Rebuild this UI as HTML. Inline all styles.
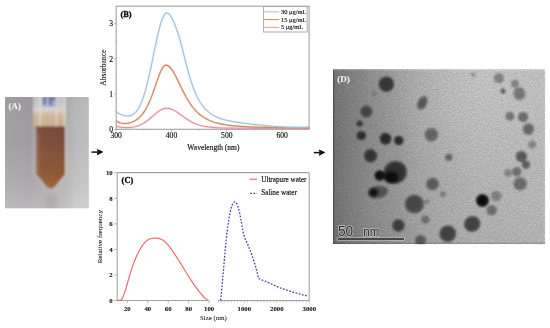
<!DOCTYPE html>
<html><head><meta charset="utf-8"><style>
html,body{margin:0;padding:0;background:#fff;}
svg{display:block;}
#w{will-change:transform;width:550px;height:328px;}
.t{font-family:"Liberation Serif",serif;font-size:7px;fill:#111;stroke:#111;stroke-width:0.15px;}
.tb{font-family:"Liberation Serif",serif;font-size:7px;font-weight:bold;fill:#111;stroke:#111;stroke-width:0.1px;}
</style></head><body>
<div id="w"><svg width="550" height="328" viewBox="0 0 550 328">
<rect width="550" height="328" fill="#fff"/>
<defs>
<linearGradient id="pbg" x1="5" y1="0" x2="89" y2="0" gradientUnits="userSpaceOnUse">
<stop offset="0" stop-color="#a4a1a4"/><stop offset="0.3" stop-color="#9f9ca0"/><stop offset="0.7" stop-color="#adaaab"/><stop offset="0.85" stop-color="#b9bbbb"/><stop offset="1" stop-color="#bdbfbf"/></linearGradient>
<linearGradient id="pbgv" x1="0" y1="97" x2="0" y2="208" gradientUnits="userSpaceOnUse">
<stop offset="0" stop-color="#000" stop-opacity="0.03"/><stop offset="0.4" stop-color="#fff" stop-opacity="0"/><stop offset="0.75" stop-color="#fff" stop-opacity="0.13"/><stop offset="1" stop-color="#fff" stop-opacity="0.26"/></linearGradient>
<linearGradient id="liq" x1="0" y1="126" x2="0" y2="189" gradientUnits="userSpaceOnUse">
<stop offset="0" stop-color="#784b3c"/><stop offset="0.25" stop-color="#804f3d"/><stop offset="0.55" stop-color="#8a553a"/><stop offset="0.75" stop-color="#8f5837"/><stop offset="0.9" stop-color="#976238"/><stop offset="1" stop-color="#9d6a3a"/></linearGradient>
<linearGradient id="liqh" x1="36" y1="0" x2="65.2" y2="0" gradientUnits="userSpaceOnUse">
<stop offset="0" stop-color="#fff" stop-opacity="0.12"/><stop offset="0.12" stop-color="#fff" stop-opacity="0.03"/><stop offset="0.5" stop-color="#000" stop-opacity="0"/><stop offset="0.92" stop-color="#000" stop-opacity="0.03"/><stop offset="1" stop-color="#fff" stop-opacity="0.1"/></linearGradient>
<linearGradient id="foam" x1="0" y1="97" x2="0" y2="127" gradientUnits="userSpaceOnUse">
<stop offset="0" stop-color="#c2c2c6"/><stop offset="0.3" stop-color="#c8c7c8"/><stop offset="0.4" stop-color="#d6d1cb"/><stop offset="0.5" stop-color="#d6cbbd"/><stop offset="0.58" stop-color="#d0b99d"/><stop offset="0.9" stop-color="#ccb092"/><stop offset="1" stop-color="#c2a282"/></linearGradient>
<filter id="pblur" x="-10%" y="-10%" width="120%" height="120%"><feGaussianBlur stdDeviation="0.8"/></filter>
<filter id="pblur2" x="-30%" y="-30%" width="160%" height="160%"><feGaussianBlur stdDeviation="2.5"/></filter>
<clipPath id="pclip"><rect x="5" y="97" width="83.8" height="111.3"/></clipPath>
</defs><g clip-path="url(#pclip)"><rect x="5" y="97" width="84" height="112" fill="url(#pbg)"/><rect x="5" y="97" width="84" height="112" fill="url(#pbgv)"/><g filter="url(#pblur2)"><ellipse cx="51" cy="202" rx="7" ry="9" fill="#8a7070" opacity="0.18"/><path d="M34,128 L67,128 L67,174 L51,191 L34,174 Z" fill="#d8d8d8" opacity="0.3"/></g><g filter="url(#pblur)"><rect x="33.2" y="95" width="32.6" height="33" fill="url(#foam)"/><rect x="39.4" y="95" width="1.3" height="31" fill="#e6e6e6" opacity="0.85"/><rect x="55.6" y="95" width="1.3" height="31" fill="#e6e6e6" opacity="0.7"/><rect x="64.2" y="95" width="1.3" height="33" fill="#e6e6e6" opacity="0.8"/><rect x="42" y="96" width="14.3" height="10.5" fill="#aeb1cc"/><path d="M43.2,97 L46.2,97 L46,104.5 L44.5,105.5 L43.2,103 Z" fill="#6d74ab"/><path d="M48.5,97 L55.3,97 L54.8,100 L51.5,102 L52.8,105.5 L49.5,105.8 L49,102 Z" fill="#6d74ab"/><path d="M36,126.4 L65.2,126.4 L65.2,173.5 L54.5,186.8 Q50.8,190 47.1,186.8 L36,173.5 Z" fill="url(#liq)"/><path d="M36,126.4 L65.2,126.4 L65.2,173.5 L54.5,186.8 Q50.8,190 47.1,186.8 L36,173.5 Z" fill="url(#liqh)"/><rect x="37.4" y="132" width="0.8" height="40" fill="#d8c0a8" opacity="0.3"/><rect x="65" y="126" width="1.2" height="48" fill="#d8d8d8" opacity="0.6"/></g><text x="8.6" y="108.6" class="tb" style="font-size:8.8px;fill:#f6f6f6;stroke:#f6f6f6">(A)</text></g>
<line x1="91.5" y1="152.1" x2="100.4" y2="152.1" stroke="#111" stroke-width="1.5"/><path d="M97.4,149.7 L102.4,152.1 L97.4,154.5 L98.60000000000001,152.1 Z" fill="#111" stroke="#111" stroke-width="1.1" stroke-linejoin="round"/><line x1="313.8" y1="152.6" x2="322.3" y2="152.6" stroke="#111" stroke-width="1.5"/><path d="M319.3,150.2 L324.3,152.6 L319.3,155.0 L320.5,152.6 Z" fill="#111" stroke="#111" stroke-width="1.1" stroke-linejoin="round"/>
<rect x="116.2" y="6.2" width="192.9" height="123.1" fill="none" stroke="#a3a3a3" stroke-width="1.1"/><line x1="116.2" y1="129.3" x2="116.2" y2="131.3" stroke="#a3a3a3" stroke-width="0.8"/><text x="116.2" y="137.9" class="t" text-anchor="middle" style="font-size:7.6px">300</text><line x1="171.5" y1="129.3" x2="171.5" y2="131.3" stroke="#a3a3a3" stroke-width="0.8"/><text x="171.5" y="137.9" class="t" text-anchor="middle" style="font-size:7.6px">400</text><line x1="226.8" y1="129.3" x2="226.8" y2="131.3" stroke="#a3a3a3" stroke-width="0.8"/><text x="226.8" y="137.9" class="t" text-anchor="middle" style="font-size:7.6px">500</text><line x1="282.1" y1="129.3" x2="282.1" y2="131.3" stroke="#a3a3a3" stroke-width="0.8"/><text x="282.1" y="137.9" class="t" text-anchor="middle" style="font-size:7.6px">600</text><line x1="114.9" y1="111.7" x2="116.2" y2="111.7" stroke="#a3a3a3" stroke-width="0.6"/><line x1="114.9" y1="76.5" x2="116.2" y2="76.5" stroke="#a3a3a3" stroke-width="0.6"/><line x1="114.9" y1="41.3" x2="116.2" y2="41.3" stroke="#a3a3a3" stroke-width="0.6"/><line x1="143.8" y1="129.3" x2="143.8" y2="130.60000000000002" stroke="#a3a3a3" stroke-width="0.6"/><line x1="199.2" y1="129.3" x2="199.2" y2="130.60000000000002" stroke="#a3a3a3" stroke-width="0.6"/><line x1="254.4" y1="129.3" x2="254.4" y2="130.60000000000002" stroke="#a3a3a3" stroke-width="0.6"/><line x1="114.2" y1="129.3" x2="116.2" y2="129.3" stroke="#a3a3a3" stroke-width="0.8"/><text x="113" y="131.9" class="t" text-anchor="end" style="font-size:7.6px">0</text><line x1="114.2" y1="94.1" x2="116.2" y2="94.1" stroke="#a3a3a3" stroke-width="0.8"/><text x="113" y="96.7" class="t" text-anchor="end" style="font-size:7.6px">1</text><line x1="114.2" y1="58.9" x2="116.2" y2="58.9" stroke="#a3a3a3" stroke-width="0.8"/><text x="113" y="61.5" class="t" text-anchor="end" style="font-size:7.6px">2</text><line x1="114.2" y1="23.7" x2="116.2" y2="23.7" stroke="#a3a3a3" stroke-width="0.8"/><text x="113" y="26.3" class="t" text-anchor="end" style="font-size:7.6px">3</text><defs><filter id="lblur" x="-5%" y="-5%" width="110%" height="110%"><feGaussianBlur stdDeviation="0.8"/></filter></defs><g><path d="M116.20,126.22 L117.42,126.60 L118.63,126.90 L119.85,127.13 L121.06,127.31 L122.28,127.44 L123.49,127.52 L124.71,127.57 L125.93,127.59 L127.14,127.58 L128.36,127.53 L129.57,127.45 L130.79,127.33 L132.00,127.18 L133.22,126.98 L134.44,126.74 L135.65,126.46 L136.87,126.12 L138.08,125.72 L139.30,125.27 L140.51,124.75 L141.73,124.16 L142.95,123.51 L144.16,122.78 L145.38,122.00 L146.59,121.14 L147.81,120.23 L149.02,119.26 L150.24,118.26 L151.46,117.22 L152.67,116.16 L153.89,115.10 L155.10,114.06 L156.32,113.05 L157.53,112.09 L158.75,111.20 L159.97,110.40 L161.18,109.70 L162.40,109.13 L163.61,108.69 L164.83,108.39 L166.04,108.24 L167.26,108.25 L168.48,108.38 L169.69,108.62 L170.91,108.98 L172.12,109.45 L173.34,110.01 L174.55,110.65 L175.77,111.37 L176.99,112.15 L178.20,112.98 L179.42,113.83 L180.63,114.71 L181.85,115.60 L183.06,116.48 L184.28,117.35 L185.50,118.20 L186.71,119.02 L187.93,119.80 L189.14,120.55 L190.36,121.25 L191.57,121.91 L192.79,122.53 L194.01,123.10 L195.22,123.62 L196.44,124.10 L197.65,124.54 L198.87,124.94 L200.08,125.30 L201.30,125.63 L202.52,125.92 L203.73,126.19 L204.95,126.42 L206.16,126.63 L207.38,126.82 L208.59,126.99 L209.81,127.14 L211.03,127.27 L212.24,127.38 L213.46,127.49 L214.67,127.58 L215.89,127.66 L217.11,127.73 L218.32,127.79 L219.54,127.84 L220.75,127.89 L221.97,127.94 L223.18,127.97 L224.40,128.01 L225.62,128.03 L226.83,128.06 L228.05,128.08 L229.26,128.10 L230.48,128.12 L231.69,128.13 L232.91,128.15 L234.13,128.16 L235.34,128.17 L236.56,128.18 L237.77,128.19 L238.99,128.19 L240.20,128.20 L241.42,128.20 L242.64,128.21 L243.85,128.21 L245.07,128.22 L246.28,128.22 L247.50,128.22 L248.71,128.23 L249.93,128.23 L251.15,128.23 L252.36,128.23 L253.58,128.23 L254.79,128.24 L256.01,128.24 L257.22,128.24 L258.44,128.24 L259.66,128.24 L260.87,128.24 L262.09,128.24 L263.30,128.24 L264.52,128.24 L265.73,128.24 L266.95,128.24 L268.17,128.24 L269.38,128.25 L270.60,128.25 L271.81,128.25 L273.03,128.25 L274.24,128.25 L275.46,128.25 L276.68,128.25 L277.89,128.25 L279.11,128.25 L280.32,128.25 L281.54,128.25 L282.75,128.25 L283.97,128.25 L285.19,128.25 L286.40,128.25 L287.62,128.25 L288.83,128.25 L290.05,128.25 L291.26,128.25 L292.48,128.25 L293.70,128.25 L294.91,128.25 L296.13,128.25 L297.34,128.25 L298.56,128.25 L299.77,128.25 L300.99,128.25 L302.21,128.25 L303.42,128.25 L304.64,128.25 L305.85,128.25 L307.07,128.25 L308.28,128.25 L309.50,128.25" fill="none" stroke="#e6959e" stroke-width="2.4" stroke-opacity="0.25"/><path d="M116.20,126.22 L117.42,126.60 L118.63,126.90 L119.85,127.13 L121.06,127.31 L122.28,127.44 L123.49,127.52 L124.71,127.57 L125.93,127.59 L127.14,127.58 L128.36,127.53 L129.57,127.45 L130.79,127.33 L132.00,127.18 L133.22,126.98 L134.44,126.74 L135.65,126.46 L136.87,126.12 L138.08,125.72 L139.30,125.27 L140.51,124.75 L141.73,124.16 L142.95,123.51 L144.16,122.78 L145.38,122.00 L146.59,121.14 L147.81,120.23 L149.02,119.26 L150.24,118.26 L151.46,117.22 L152.67,116.16 L153.89,115.10 L155.10,114.06 L156.32,113.05 L157.53,112.09 L158.75,111.20 L159.97,110.40 L161.18,109.70 L162.40,109.13 L163.61,108.69 L164.83,108.39 L166.04,108.24 L167.26,108.25 L168.48,108.38 L169.69,108.62 L170.91,108.98 L172.12,109.45 L173.34,110.01 L174.55,110.65 L175.77,111.37 L176.99,112.15 L178.20,112.98 L179.42,113.83 L180.63,114.71 L181.85,115.60 L183.06,116.48 L184.28,117.35 L185.50,118.20 L186.71,119.02 L187.93,119.80 L189.14,120.55 L190.36,121.25 L191.57,121.91 L192.79,122.53 L194.01,123.10 L195.22,123.62 L196.44,124.10 L197.65,124.54 L198.87,124.94 L200.08,125.30 L201.30,125.63 L202.52,125.92 L203.73,126.19 L204.95,126.42 L206.16,126.63 L207.38,126.82 L208.59,126.99 L209.81,127.14 L211.03,127.27 L212.24,127.38 L213.46,127.49 L214.67,127.58 L215.89,127.66 L217.11,127.73 L218.32,127.79 L219.54,127.84 L220.75,127.89 L221.97,127.94 L223.18,127.97 L224.40,128.01 L225.62,128.03 L226.83,128.06 L228.05,128.08 L229.26,128.10 L230.48,128.12 L231.69,128.13 L232.91,128.15 L234.13,128.16 L235.34,128.17 L236.56,128.18 L237.77,128.19 L238.99,128.19 L240.20,128.20 L241.42,128.20 L242.64,128.21 L243.85,128.21 L245.07,128.22 L246.28,128.22 L247.50,128.22 L248.71,128.23 L249.93,128.23 L251.15,128.23 L252.36,128.23 L253.58,128.23 L254.79,128.24 L256.01,128.24 L257.22,128.24 L258.44,128.24 L259.66,128.24 L260.87,128.24 L262.09,128.24 L263.30,128.24 L264.52,128.24 L265.73,128.24 L266.95,128.24 L268.17,128.24 L269.38,128.25 L270.60,128.25 L271.81,128.25 L273.03,128.25 L274.24,128.25 L275.46,128.25 L276.68,128.25 L277.89,128.25 L279.11,128.25 L280.32,128.25 L281.54,128.25 L282.75,128.25 L283.97,128.25 L285.19,128.25 L286.40,128.25 L287.62,128.25 L288.83,128.25 L290.05,128.25 L291.26,128.25 L292.48,128.25 L293.70,128.25 L294.91,128.25 L296.13,128.25 L297.34,128.25 L298.56,128.25 L299.77,128.25 L300.99,128.25 L302.21,128.25 L303.42,128.25 L304.64,128.25 L305.85,128.25 L307.07,128.25 L308.28,128.25 L309.50,128.25" fill="none" stroke="#e4909a" stroke-width="1.1"/><path d="M116.20,121.05 L117.42,121.75 L118.63,122.31 L119.85,122.74 L121.06,123.06 L122.28,123.28 L123.49,123.40 L124.71,123.44 L125.93,123.41 L127.14,123.29 L128.36,123.10 L129.57,122.84 L130.79,122.50 L132.00,122.08 L133.22,121.57 L134.44,120.97 L135.65,120.27 L136.87,119.47 L138.08,118.55 L139.30,117.49 L140.51,116.29 L141.73,114.94 L142.95,113.41 L144.16,111.69 L145.38,109.78 L146.59,107.64 L147.81,105.28 L149.02,102.70 L150.24,99.88 L151.46,96.84 L152.67,93.60 L153.89,90.20 L155.10,86.69 L156.32,83.14 L157.53,79.62 L158.75,76.25 L159.97,73.13 L161.18,70.38 L162.40,68.11 L163.61,66.44 L164.83,65.42 L166.04,65.13 L167.26,65.36 L168.48,65.99 L169.69,66.98 L170.91,68.31 L172.12,69.95 L173.34,71.86 L174.55,73.98 L175.77,76.27 L176.99,78.68 L178.20,81.18 L179.42,83.71 L180.63,86.24 L181.85,88.75 L183.06,91.20 L184.28,93.57 L185.50,95.86 L186.71,98.04 L187.93,100.11 L189.14,102.06 L190.36,103.90 L191.57,105.62 L192.79,107.23 L194.01,108.73 L195.22,110.12 L196.44,111.41 L197.65,112.61 L198.87,113.72 L200.08,114.74 L201.30,115.68 L202.52,116.55 L203.73,117.36 L204.95,118.10 L206.16,118.78 L207.38,119.42 L208.59,120.00 L209.81,120.54 L211.03,121.03 L212.24,121.49 L213.46,121.92 L214.67,122.31 L215.89,122.67 L217.11,123.01 L218.32,123.32 L219.54,123.61 L220.75,123.88 L221.97,124.13 L223.18,124.36 L224.40,124.57 L225.62,124.77 L226.83,124.96 L228.05,125.13 L229.26,125.29 L230.48,125.44 L231.69,125.59 L232.91,125.72 L234.13,125.84 L235.34,125.96 L236.56,126.06 L237.77,126.17 L238.99,126.26 L240.20,126.35 L241.42,126.43 L242.64,126.51 L243.85,126.59 L245.07,126.66 L246.28,126.72 L247.50,126.78 L248.71,126.84 L249.93,126.90 L251.15,126.95 L252.36,127.00 L253.58,127.04 L254.79,127.09 L256.01,127.13 L257.22,127.17 L258.44,127.21 L259.66,127.24 L260.87,127.28 L262.09,127.31 L263.30,127.34 L264.52,127.37 L265.73,127.39 L266.95,127.42 L268.17,127.44 L269.38,127.47 L270.60,127.49 L271.81,127.51 L273.03,127.53 L274.24,127.55 L275.46,127.57 L276.68,127.59 L277.89,127.60 L279.11,127.62 L280.32,127.64 L281.54,127.65 L282.75,127.66 L283.97,127.68 L285.19,127.69 L286.40,127.70 L287.62,127.72 L288.83,127.73 L290.05,127.74 L291.26,127.75 L292.48,127.76 L293.70,127.77 L294.91,127.78 L296.13,127.79 L297.34,127.79 L298.56,127.80 L299.77,127.81 L300.99,127.82 L302.21,127.82 L303.42,127.83 L304.64,127.84 L305.85,127.84 L307.07,127.85 L308.28,127.86 L309.50,127.86" fill="none" stroke="#d2845f" stroke-width="2.4" stroke-opacity="0.25"/><path d="M116.20,121.05 L117.42,121.75 L118.63,122.31 L119.85,122.74 L121.06,123.06 L122.28,123.28 L123.49,123.40 L124.71,123.44 L125.93,123.41 L127.14,123.29 L128.36,123.10 L129.57,122.84 L130.79,122.50 L132.00,122.08 L133.22,121.57 L134.44,120.97 L135.65,120.27 L136.87,119.47 L138.08,118.55 L139.30,117.49 L140.51,116.29 L141.73,114.94 L142.95,113.41 L144.16,111.69 L145.38,109.78 L146.59,107.64 L147.81,105.28 L149.02,102.70 L150.24,99.88 L151.46,96.84 L152.67,93.60 L153.89,90.20 L155.10,86.69 L156.32,83.14 L157.53,79.62 L158.75,76.25 L159.97,73.13 L161.18,70.38 L162.40,68.11 L163.61,66.44 L164.83,65.42 L166.04,65.13 L167.26,65.36 L168.48,65.99 L169.69,66.98 L170.91,68.31 L172.12,69.95 L173.34,71.86 L174.55,73.98 L175.77,76.27 L176.99,78.68 L178.20,81.18 L179.42,83.71 L180.63,86.24 L181.85,88.75 L183.06,91.20 L184.28,93.57 L185.50,95.86 L186.71,98.04 L187.93,100.11 L189.14,102.06 L190.36,103.90 L191.57,105.62 L192.79,107.23 L194.01,108.73 L195.22,110.12 L196.44,111.41 L197.65,112.61 L198.87,113.72 L200.08,114.74 L201.30,115.68 L202.52,116.55 L203.73,117.36 L204.95,118.10 L206.16,118.78 L207.38,119.42 L208.59,120.00 L209.81,120.54 L211.03,121.03 L212.24,121.49 L213.46,121.92 L214.67,122.31 L215.89,122.67 L217.11,123.01 L218.32,123.32 L219.54,123.61 L220.75,123.88 L221.97,124.13 L223.18,124.36 L224.40,124.57 L225.62,124.77 L226.83,124.96 L228.05,125.13 L229.26,125.29 L230.48,125.44 L231.69,125.59 L232.91,125.72 L234.13,125.84 L235.34,125.96 L236.56,126.06 L237.77,126.17 L238.99,126.26 L240.20,126.35 L241.42,126.43 L242.64,126.51 L243.85,126.59 L245.07,126.66 L246.28,126.72 L247.50,126.78 L248.71,126.84 L249.93,126.90 L251.15,126.95 L252.36,127.00 L253.58,127.04 L254.79,127.09 L256.01,127.13 L257.22,127.17 L258.44,127.21 L259.66,127.24 L260.87,127.28 L262.09,127.31 L263.30,127.34 L264.52,127.37 L265.73,127.39 L266.95,127.42 L268.17,127.44 L269.38,127.47 L270.60,127.49 L271.81,127.51 L273.03,127.53 L274.24,127.55 L275.46,127.57 L276.68,127.59 L277.89,127.60 L279.11,127.62 L280.32,127.64 L281.54,127.65 L282.75,127.66 L283.97,127.68 L285.19,127.69 L286.40,127.70 L287.62,127.72 L288.83,127.73 L290.05,127.74 L291.26,127.75 L292.48,127.76 L293.70,127.77 L294.91,127.78 L296.13,127.79 L297.34,127.79 L298.56,127.80 L299.77,127.81 L300.99,127.82 L302.21,127.82 L303.42,127.83 L304.64,127.84 L305.85,127.84 L307.07,127.85 L308.28,127.86 L309.50,127.86" fill="none" stroke="#d2845f" stroke-width="1.1"/><path d="M116.20,112.03 L117.08,112.54 L117.96,113.03 L118.85,113.48 L119.73,113.91 L120.61,114.30 L121.49,114.66 L122.38,114.98 L123.26,115.27 L124.14,115.51 L125.02,115.71 L125.90,115.86 L126.79,115.95 L127.67,115.99 L128.55,115.95 L129.43,115.84 L130.32,115.65 L131.20,115.37 L132.08,114.99 L132.96,114.50 L133.84,113.89 L134.73,113.16 L135.61,112.28 L136.49,111.26 L137.37,110.08 L138.25,108.72 L139.14,107.19 L140.02,105.46 L140.90,103.54 L141.78,101.42 L142.67,99.08 L143.55,96.54 L144.43,93.78 L145.31,90.80 L146.19,87.62 L147.08,84.23 L147.96,80.66 L148.84,76.91 L149.72,72.99 L150.61,68.94 L151.49,64.77 L152.37,60.52 L153.25,56.21 L154.13,51.89 L155.02,47.60 L155.90,43.38 L156.78,39.28 L157.66,35.33 L158.55,31.59 L159.43,28.09 L160.31,24.89 L161.19,22.01 L162.07,19.50 L162.96,17.38 L163.84,15.67 L164.72,14.38 L165.60,13.53 L166.48,13.12 L167.37,13.15 L168.25,13.53 L169.13,14.21 L170.01,15.17 L170.90,16.40 L171.78,17.88 L172.66,19.58 L173.54,21.47 L174.42,23.53 L175.31,25.73 L176.19,28.05 L177.07,30.51 L177.95,33.13 L178.84,35.91 L179.72,38.87 L180.60,42.02 L181.48,45.34 L182.36,48.78 L183.25,52.29 L184.13,55.85 L185.01,59.40 L185.89,62.92 L186.78,66.36 L187.66,69.69 L188.54,72.90 L189.42,75.97 L190.30,78.89 L191.19,81.68 L192.07,84.32 L192.95,86.82 L193.83,89.18 L194.72,91.40 L195.60,93.48 L196.48,95.43 L197.36,97.26 L198.24,98.95 L199.13,100.53 L200.01,102.00 L200.89,103.37 L201.77,104.64 L202.65,105.82 L203.54,106.92 L204.42,107.95 L205.30,108.91 L206.18,109.81 L207.07,110.65 L207.95,111.44 L208.83,112.18 L209.71,112.87 L210.59,113.51 L211.48,114.12 L212.36,114.69 L213.24,115.22 L214.12,115.71 L215.01,116.18 L215.89,116.62 L216.77,117.03 L217.65,117.41 L218.53,117.78 L219.42,118.12 L220.30,118.44 L221.18,118.74 L222.06,119.03 L222.95,119.30 L223.83,119.55 L224.71,119.80 L225.59,120.03 L226.47,120.25 L227.36,120.45 L228.24,120.65 L229.12,120.84 L230.00,121.03 L230.88,121.20 L231.77,121.37 L232.65,121.53 L233.53,121.68 L234.41,121.83 L235.30,121.98 L236.18,122.12 L237.06,122.26 L237.94,122.39 L238.82,122.52 L239.71,122.65 L240.59,122.77 L241.47,122.89 L242.35,123.01 L243.24,123.13 L244.12,123.24 L245.00,123.35 L245.88,123.46 L246.76,123.57 L247.65,123.68 L248.53,123.78 L249.41,123.89 L250.29,123.99 L251.18,124.09 L252.06,124.19 L252.94,124.29 L253.82,124.39 L254.70,124.49 L255.59,124.59 L256.47,124.68 L257.35,124.78 L258.23,124.87 L259.12,124.96 L260.00,125.05 L260.88,125.15 L261.76,125.24 L262.64,125.32 L263.53,125.41 L264.41,125.50 L265.29,125.58 L266.17,125.67 L267.05,125.75 L267.94,125.83 L268.82,125.91 L269.70,125.99 L270.58,126.07 L271.47,126.14 L272.35,126.22 L273.23,126.29 L274.11,126.36 L274.99,126.43 L275.88,126.50 L276.76,126.57 L277.64,126.63 L278.52,126.69 L279.41,126.75 L280.29,126.81 L281.17,126.87 L282.05,126.92 L282.93,126.97 L283.82,127.02 L284.70,127.07 L285.58,127.11 L286.46,127.15 L287.35,127.19 L288.23,127.23 L289.11,127.26 L289.99,127.29 L290.87,127.32 L291.76,127.34 L292.64,127.37 L293.52,127.38 L294.40,127.40 L295.28,127.41 L296.17,127.42 L297.05,127.42 L297.93,127.42 L298.81,127.42 L299.70,127.41 L300.58,127.40 L301.46,127.38 L302.34,127.36 L303.22,127.34 L304.11,127.31 L304.99,127.28 L305.87,127.24 L306.75,127.20 L307.64,127.15 L308.52,127.10 L309.40,127.05" fill="none" stroke="#a4c2de" stroke-width="2.4" stroke-opacity="0.25"/><path d="M116.20,112.03 L117.08,112.54 L117.96,113.03 L118.85,113.48 L119.73,113.91 L120.61,114.30 L121.49,114.66 L122.38,114.98 L123.26,115.27 L124.14,115.51 L125.02,115.71 L125.90,115.86 L126.79,115.95 L127.67,115.99 L128.55,115.95 L129.43,115.84 L130.32,115.65 L131.20,115.37 L132.08,114.99 L132.96,114.50 L133.84,113.89 L134.73,113.16 L135.61,112.28 L136.49,111.26 L137.37,110.08 L138.25,108.72 L139.14,107.19 L140.02,105.46 L140.90,103.54 L141.78,101.42 L142.67,99.08 L143.55,96.54 L144.43,93.78 L145.31,90.80 L146.19,87.62 L147.08,84.23 L147.96,80.66 L148.84,76.91 L149.72,72.99 L150.61,68.94 L151.49,64.77 L152.37,60.52 L153.25,56.21 L154.13,51.89 L155.02,47.60 L155.90,43.38 L156.78,39.28 L157.66,35.33 L158.55,31.59 L159.43,28.09 L160.31,24.89 L161.19,22.01 L162.07,19.50 L162.96,17.38 L163.84,15.67 L164.72,14.38 L165.60,13.53 L166.48,13.12 L167.37,13.15 L168.25,13.53 L169.13,14.21 L170.01,15.17 L170.90,16.40 L171.78,17.88 L172.66,19.58 L173.54,21.47 L174.42,23.53 L175.31,25.73 L176.19,28.05 L177.07,30.51 L177.95,33.13 L178.84,35.91 L179.72,38.87 L180.60,42.02 L181.48,45.34 L182.36,48.78 L183.25,52.29 L184.13,55.85 L185.01,59.40 L185.89,62.92 L186.78,66.36 L187.66,69.69 L188.54,72.90 L189.42,75.97 L190.30,78.89 L191.19,81.68 L192.07,84.32 L192.95,86.82 L193.83,89.18 L194.72,91.40 L195.60,93.48 L196.48,95.43 L197.36,97.26 L198.24,98.95 L199.13,100.53 L200.01,102.00 L200.89,103.37 L201.77,104.64 L202.65,105.82 L203.54,106.92 L204.42,107.95 L205.30,108.91 L206.18,109.81 L207.07,110.65 L207.95,111.44 L208.83,112.18 L209.71,112.87 L210.59,113.51 L211.48,114.12 L212.36,114.69 L213.24,115.22 L214.12,115.71 L215.01,116.18 L215.89,116.62 L216.77,117.03 L217.65,117.41 L218.53,117.78 L219.42,118.12 L220.30,118.44 L221.18,118.74 L222.06,119.03 L222.95,119.30 L223.83,119.55 L224.71,119.80 L225.59,120.03 L226.47,120.25 L227.36,120.45 L228.24,120.65 L229.12,120.84 L230.00,121.03 L230.88,121.20 L231.77,121.37 L232.65,121.53 L233.53,121.68 L234.41,121.83 L235.30,121.98 L236.18,122.12 L237.06,122.26 L237.94,122.39 L238.82,122.52 L239.71,122.65 L240.59,122.77 L241.47,122.89 L242.35,123.01 L243.24,123.13 L244.12,123.24 L245.00,123.35 L245.88,123.46 L246.76,123.57 L247.65,123.68 L248.53,123.78 L249.41,123.89 L250.29,123.99 L251.18,124.09 L252.06,124.19 L252.94,124.29 L253.82,124.39 L254.70,124.49 L255.59,124.59 L256.47,124.68 L257.35,124.78 L258.23,124.87 L259.12,124.96 L260.00,125.05 L260.88,125.15 L261.76,125.24 L262.64,125.32 L263.53,125.41 L264.41,125.50 L265.29,125.58 L266.17,125.67 L267.05,125.75 L267.94,125.83 L268.82,125.91 L269.70,125.99 L270.58,126.07 L271.47,126.14 L272.35,126.22 L273.23,126.29 L274.11,126.36 L274.99,126.43 L275.88,126.50 L276.76,126.57 L277.64,126.63 L278.52,126.69 L279.41,126.75 L280.29,126.81 L281.17,126.87 L282.05,126.92 L282.93,126.97 L283.82,127.02 L284.70,127.07 L285.58,127.11 L286.46,127.15 L287.35,127.19 L288.23,127.23 L289.11,127.26 L289.99,127.29 L290.87,127.32 L291.76,127.34 L292.64,127.37 L293.52,127.38 L294.40,127.40 L295.28,127.41 L296.17,127.42 L297.05,127.42 L297.93,127.42 L298.81,127.42 L299.70,127.41 L300.58,127.40 L301.46,127.38 L302.34,127.36 L303.22,127.34 L304.11,127.31 L304.99,127.28 L305.87,127.24 L306.75,127.20 L307.64,127.15 L308.52,127.10 L309.40,127.05" fill="none" stroke="#a0c0de" stroke-width="1.1"/></g><text x="120.4" y="16.9" class="tb" style="font-size:8.4px;stroke-width:0.35px">(B)</text><text class="t" transform="translate(106.1,67.7) rotate(-90)" text-anchor="middle" style="font-size:7.6px;stroke-width:0.08px">Absorbance</text><text x="213.4" y="150.1" class="t" text-anchor="middle" style="font-size:7.5px">Wavelength (nm)</text><rect x="263.6" y="6.6" width="43.6" height="25.4" fill="#fff" stroke="#a3a3a3" stroke-width="0.9"/><line x1="264.3" y1="11.8" x2="279.4" y2="11.8" stroke="#a4c2de" stroke-width="1"/><text x="281" y="13.9" class="t" style="font-size:6.45px">30 μg/mL</text><line x1="264.3" y1="19.6" x2="279.4" y2="19.6" stroke="#d2845f" stroke-width="1"/><text x="281" y="21.7" class="t" style="font-size:6.45px">15 μg/mL</text><line x1="264.3" y1="27.3" x2="279.4" y2="27.3" stroke="#e6959e" stroke-width="1"/><text x="281" y="29.4" class="t" style="font-size:6.45px">5 μg/mL</text>
<line x1="117.2" y1="172.7" x2="309.2" y2="172.7" stroke="#a3a3a3" stroke-width="1.2"/><line x1="309.2" y1="172.7" x2="309.2" y2="300.5" stroke="#a3a3a3" stroke-width="1.1"/><line x1="117.2" y1="172.7" x2="117.2" y2="300.5" stroke="#a3a3a3" stroke-width="1.1"/><line x1="117.2" y1="300.5" x2="208.9" y2="300.5" stroke="#a3a3a3" stroke-width="1.1"/><line x1="218.3" y1="300.5" x2="309.2" y2="300.5" stroke="#a3a3a3" stroke-width="1.1"/><line x1="114" y1="300.5" x2="117.2" y2="300.5" stroke="#a3a3a3" stroke-width="0.8"/><text x="112.7" y="302.8" class="tb" text-anchor="end" style="font-size:6.8px">0</text><line x1="114" y1="275.0" x2="117.2" y2="275.0" stroke="#a3a3a3" stroke-width="0.8"/><text x="112.7" y="277.3" class="tb" text-anchor="end" style="font-size:6.8px">2</text><line x1="114" y1="249.5" x2="117.2" y2="249.5" stroke="#a3a3a3" stroke-width="0.8"/><text x="112.7" y="251.8" class="tb" text-anchor="end" style="font-size:6.8px">4</text><line x1="114" y1="223.9" x2="117.2" y2="223.9" stroke="#a3a3a3" stroke-width="0.8"/><text x="112.7" y="226.2" class="tb" text-anchor="end" style="font-size:6.8px">6</text><line x1="114" y1="198.4" x2="117.2" y2="198.4" stroke="#a3a3a3" stroke-width="0.8"/><text x="112.7" y="200.7" class="tb" text-anchor="end" style="font-size:6.8px">8</text><line x1="114" y1="172.9" x2="117.2" y2="172.9" stroke="#a3a3a3" stroke-width="0.8"/><text x="112.7" y="175.2" class="tb" text-anchor="end" style="font-size:6.8px">10</text><line x1="127.3" y1="300.5" x2="127.3" y2="303.3" stroke="#a3a3a3" stroke-width="0.8"/><text x="127.3" y="311.3" class="tb" text-anchor="middle" style="font-size:6.8px">20</text><line x1="147.8" y1="300.5" x2="147.8" y2="303.3" stroke="#a3a3a3" stroke-width="0.8"/><text x="147.8" y="311.3" class="tb" text-anchor="middle" style="font-size:6.8px">40</text><line x1="168.2" y1="300.5" x2="168.2" y2="303.3" stroke="#a3a3a3" stroke-width="0.8"/><text x="168.2" y="311.3" class="tb" text-anchor="middle" style="font-size:6.8px">60</text><line x1="188.7" y1="300.5" x2="188.7" y2="303.3" stroke="#a3a3a3" stroke-width="0.8"/><text x="188.7" y="311.3" class="tb" text-anchor="middle" style="font-size:6.8px">80</text><line x1="209.1" y1="300.5" x2="209.1" y2="303.3" stroke="#a3a3a3" stroke-width="0.8"/><text x="209.1" y="311.3" class="tb" text-anchor="middle" style="font-size:6.8px">100</text><line x1="218.3" y1="300.5" x2="218.3" y2="302.3" stroke="#a3a3a3" stroke-width="0.7"/><line x1="221.6" y1="300.5" x2="221.6" y2="302.3" stroke="#a3a3a3" stroke-width="0.7"/><line x1="224.8" y1="300.5" x2="224.8" y2="302.3" stroke="#a3a3a3" stroke-width="0.7"/><line x1="228.1" y1="300.5" x2="228.1" y2="302.3" stroke="#a3a3a3" stroke-width="0.7"/><line x1="231.3" y1="300.5" x2="231.3" y2="302.3" stroke="#a3a3a3" stroke-width="0.7"/><line x1="234.6" y1="300.5" x2="234.6" y2="302.3" stroke="#a3a3a3" stroke-width="0.7"/><line x1="237.8" y1="300.5" x2="237.8" y2="302.3" stroke="#a3a3a3" stroke-width="0.7"/><line x1="241.1" y1="300.5" x2="241.1" y2="302.3" stroke="#a3a3a3" stroke-width="0.7"/><line x1="244.3" y1="300.5" x2="244.3" y2="303.1" stroke="#a3a3a3" stroke-width="0.7"/><line x1="247.6" y1="300.5" x2="247.6" y2="302.3" stroke="#a3a3a3" stroke-width="0.7"/><line x1="250.8" y1="300.5" x2="250.8" y2="302.3" stroke="#a3a3a3" stroke-width="0.7"/><line x1="254.1" y1="300.5" x2="254.1" y2="302.3" stroke="#a3a3a3" stroke-width="0.7"/><line x1="257.3" y1="300.5" x2="257.3" y2="302.3" stroke="#a3a3a3" stroke-width="0.7"/><line x1="260.6" y1="300.5" x2="260.6" y2="302.3" stroke="#a3a3a3" stroke-width="0.7"/><line x1="263.8" y1="300.5" x2="263.8" y2="302.3" stroke="#a3a3a3" stroke-width="0.7"/><line x1="267.1" y1="300.5" x2="267.1" y2="302.3" stroke="#a3a3a3" stroke-width="0.7"/><line x1="270.3" y1="300.5" x2="270.3" y2="302.3" stroke="#a3a3a3" stroke-width="0.7"/><line x1="273.6" y1="300.5" x2="273.6" y2="302.3" stroke="#a3a3a3" stroke-width="0.7"/><line x1="276.8" y1="300.5" x2="276.8" y2="303.1" stroke="#a3a3a3" stroke-width="0.7"/><line x1="280.1" y1="300.5" x2="280.1" y2="302.3" stroke="#a3a3a3" stroke-width="0.7"/><line x1="283.3" y1="300.5" x2="283.3" y2="302.3" stroke="#a3a3a3" stroke-width="0.7"/><line x1="286.6" y1="300.5" x2="286.6" y2="302.3" stroke="#a3a3a3" stroke-width="0.7"/><line x1="289.8" y1="300.5" x2="289.8" y2="302.3" stroke="#a3a3a3" stroke-width="0.7"/><line x1="293.1" y1="300.5" x2="293.1" y2="302.3" stroke="#a3a3a3" stroke-width="0.7"/><line x1="296.3" y1="300.5" x2="296.3" y2="302.3" stroke="#a3a3a3" stroke-width="0.7"/><line x1="299.6" y1="300.5" x2="299.6" y2="302.3" stroke="#a3a3a3" stroke-width="0.7"/><line x1="302.8" y1="300.5" x2="302.8" y2="302.3" stroke="#a3a3a3" stroke-width="0.7"/><line x1="306.1" y1="300.5" x2="306.1" y2="302.3" stroke="#a3a3a3" stroke-width="0.7"/><line x1="309.3" y1="300.5" x2="309.3" y2="303.1" stroke="#a3a3a3" stroke-width="0.7"/><text x="244.3" y="311.3" class="tb" text-anchor="middle" style="font-size:6.8px">1000</text><text x="276.8" y="311.3" class="tb" text-anchor="middle" style="font-size:6.8px">2000</text><text x="309.3" y="311.3" class="tb" text-anchor="middle" style="font-size:6.8px">3000</text><path d="M117.30,300.30 L118.22,300.30 L119.13,300.30 L120.05,300.30 L120.96,300.23 L121.88,299.16 L122.80,297.18 L123.71,294.85 L124.63,292.51 L125.55,289.64 L126.46,286.45 L127.38,283.24 L128.29,280.16 L129.21,277.01 L130.13,273.90 L131.04,270.97 L131.96,268.18 L132.87,265.46 L133.79,262.86 L134.71,260.43 L135.62,258.22 L136.54,256.18 L137.46,254.27 L138.37,252.49 L139.29,250.81 L140.20,249.22 L141.12,247.67 L142.04,246.15 L142.95,244.74 L143.87,243.51 L144.78,242.52 L145.70,241.67 L146.62,240.86 L147.53,240.14 L148.45,239.52 L149.37,239.04 L150.28,238.73 L151.20,238.54 L152.11,238.37 L153.03,238.23 L153.95,238.12 L154.86,238.04 L155.78,238.00 L156.69,238.03 L157.61,238.15 L158.53,238.37 L159.44,238.66 L160.36,239.01 L161.28,239.38 L162.19,239.78 L163.11,240.34 L164.02,241.05 L164.94,241.87 L165.86,242.76 L166.77,243.67 L167.69,244.65 L168.61,245.73 L169.52,246.91 L170.44,248.15 L171.35,249.44 L172.27,250.76 L173.19,252.07 L174.10,253.37 L175.02,254.69 L175.93,256.05 L176.85,257.43 L177.77,258.83 L178.68,260.25 L179.60,261.68 L180.52,263.12 L181.43,264.60 L182.35,266.11 L183.26,267.64 L184.18,269.19 L185.10,270.73 L186.01,272.25 L186.93,273.75 L187.84,275.20 L188.76,276.64 L189.68,278.07 L190.59,279.48 L191.51,280.87 L192.43,282.24 L193.34,283.57 L194.26,284.88 L195.17,286.17 L196.09,287.45 L197.01,288.72 L197.92,289.95 L198.84,291.15 L199.75,292.31 L200.67,293.41 L201.59,294.45 L202.50,295.49 L203.42,296.50 L204.34,297.46 L205.25,298.34 L206.17,299.13 L207.08,299.79 L208.00,300.30" fill="none" stroke="#ec6c72" stroke-width="1.2"/><path d="M220.60,300.30 L221.24,294.16 L221.89,287.70 L222.53,280.96 L223.18,273.91 L223.82,266.25 L224.46,258.56 L225.11,251.45 L225.75,244.55 L226.40,238.07 L227.04,232.37 L227.68,227.34 L228.33,222.78 L228.97,218.74 L229.62,215.20 L230.26,211.89 L230.91,208.95 L231.55,206.60 L232.19,204.94 L232.84,203.59 L233.48,202.70 L234.13,202.24 L234.77,201.95 L235.41,201.98 L236.06,202.56 L236.70,203.46 L237.35,204.69 L237.99,206.56 L238.63,208.83 L239.28,211.33 L239.92,214.44 L240.57,217.96 L241.21,221.50 L241.85,224.84 L242.50,228.34 L243.14,231.74 L243.79,234.66 L244.43,236.83 L245.07,238.57 L245.72,240.07 L246.36,241.43 L247.01,242.77 L247.65,244.20 L248.29,245.78 L248.94,247.40 L249.58,249.05 L250.23,250.72 L250.87,252.44 L251.52,254.20 L252.16,256.01 L252.80,257.85 L253.45,259.73 L254.09,261.68 L254.74,263.70 L255.38,265.84 L256.02,268.11 L256.67,270.54 L257.31,273.11 L257.96,275.80 L258.60,278.60 L267.20,282.10 L279.40,287.60 L291.60,291.80 L307.40,296.10" fill="none" stroke="#3c4196" stroke-width="1.3" stroke-dasharray="1.7 1.6"/><text x="121.6" y="182.8" class="tb" style="font-size:8.4px;stroke-width:0.35px">(C)</text><text class="t" transform="translate(102.3,236.6) rotate(-90)" text-anchor="middle" style="font-size:7px;stroke-width:0.05px">Relative frequency</text><text x="213.4" y="320.4" class="t" text-anchor="middle" style="font-size:6.8px;stroke-width:0.05px;fill:#222">Size (nm)</text><line x1="249.6" y1="179.2" x2="257.2" y2="179.2" stroke="#ec6c72" stroke-width="1.2"/><text x="261.2" y="181.6" class="t" style="font-size:7.2px">Ultrapure water</text><line x1="250.2" y1="193.4" x2="257.2" y2="193.4" stroke="#3c4196" stroke-width="1.3" stroke-dasharray="1.7 1.6"/><text x="261.2" y="194.9" class="t" style="font-size:7.2px">Saline water</text>
<defs>
<linearGradient id="tbg" x1="333" y1="0" x2="545.5" y2="0" gradientUnits="userSpaceOnUse">
<stop offset="0" stop-color="#707070"/><stop offset="0.056" stop-color="#787878"/><stop offset="0.17" stop-color="#888888"/><stop offset="0.29" stop-color="#949494"/><stop offset="0.41" stop-color="#a2a2a2"/><stop offset="0.55" stop-color="#ababab"/><stop offset="0.69" stop-color="#b1b1b1"/><stop offset="1" stop-color="#b5b5b5"/></linearGradient>
<radialGradient id="tbgr" cx="480" cy="69" r="120" gradientUnits="userSpaceOnUse">
<stop offset="0" stop-color="#fff" stop-opacity="0.2"/><stop offset="0.5" stop-color="#fff" stop-opacity="0.1"/><stop offset="1" stop-color="#fff" stop-opacity="0"/></radialGradient>
<linearGradient id="tbgv" x1="0" y1="69" x2="0" y2="244" gradientUnits="userSpaceOnUse">
<stop offset="0" stop-color="#fff" stop-opacity="0.02"/><stop offset="0.5" stop-color="#fff" stop-opacity="0"/><stop offset="1" stop-color="#000" stop-opacity="0.03"/></linearGradient>
<radialGradient id="pg" cx="0.5" cy="0.5" r="0.5">
<stop offset="0" stop-color="#000" stop-opacity="1"/><stop offset="0.75" stop-color="#000" stop-opacity="0.94"/><stop offset="0.9" stop-color="#000" stop-opacity="0.7"/><stop offset="1" stop-color="#000" stop-opacity="0"/></radialGradient>
<filter id="noise" x="0" y="0" width="100%" height="100%" color-interpolation-filters="sRGB">
<feTurbulence type="fractalNoise" baseFrequency="0.75" numOctaves="2" seed="7" result="n"/>
<feGaussianBlur in="n" stdDeviation="0.6" result="nb"/>
<feColorMatrix in="nb" type="matrix" values="2.2 0 0 0 -0.6  2.2 0 0 0 -0.6  2.2 0 0 0 -0.6  0 0 0 0 1" result="g"/>
<feComposite in="SourceGraphic" in2="g" operator="arithmetic" k1="0.17" k2="0.915" k3="0" k4="0"/>
</filter>
<filter id="tblur" x="-20%" y="-20%" width="140%" height="140%"><feGaussianBlur stdDeviation="0.85"/></filter>
<filter id="tblur2" x="-50%" y="-50%" width="200%" height="200%"><feGaussianBlur stdDeviation="1.5"/></filter>
<clipPath id="tclip"><rect x="333" y="68.8" width="212.2" height="175.5"/></clipPath>
</defs><g clip-path="url(#tclip)"><g filter="url(#noise)"><rect x="333" y="69" width="212.5" height="175" fill="url(#tbg)"/><rect x="333" y="69" width="212.5" height="175" fill="url(#tbgr)"/><rect x="333" y="69" width="212.5" height="175" fill="url(#tbgv)"/></g><rect x="333" y="69" width="1.3" height="175" fill="#3a3a3a" opacity="0.55"/><rect x="543.5" y="69" width="2" height="175" fill="#fff" opacity="0.1"/><rect x="333" y="68.8" width="213" height="1.6" fill="#fff" opacity="0.25"/><rect x="333" y="242.6" width="213" height="1.8" fill="#000" opacity="0.15"/><g filter="url(#tblur)"><ellipse cx="386.4" cy="84.2" rx="8.32" ry="8.32" fill="url(#pg)" opacity="0.66"/><ellipse cx="374.1" cy="93.7" rx="2.59" ry="2.59" fill="url(#pg)" opacity="0.21"/><ellipse cx="366.4" cy="111.6" rx="6.48" ry="6.48" fill="url(#pg)" opacity="0.51"/><ellipse cx="359.5" cy="123.5" rx="3.46" ry="3.46" fill="url(#pg)" opacity="0.57"/><ellipse cx="361.3" cy="135.6" rx="5.18" ry="4.97" fill="url(#pg)" opacity="0.67"/><ellipse cx="385.5" cy="138.7" rx="6.37" ry="6.37" fill="url(#pg)" opacity="0.74"/><ellipse cx="398.8" cy="140.5" rx="5.18" ry="5.18" fill="url(#pg)" opacity="0.73"/><ellipse cx="370.5" cy="155.8" rx="7.13" ry="7.13" fill="url(#pg)" opacity="0.64"/><ellipse cx="379.7" cy="175.5" rx="5.62" ry="5.62" fill="url(#pg)" opacity="0.91"/><ellipse cx="414.4" cy="204" rx="10.26" ry="9.94" fill="url(#pg)" opacity="0.57"/><ellipse cx="427" cy="201.5" rx="2.81" ry="2.81" fill="url(#pg)" opacity="0.23"/><ellipse cx="425.4" cy="219.5" rx="4.54" ry="4.54" fill="url(#pg)" opacity="0.34"/><ellipse cx="398.4" cy="225.5" rx="6.70" ry="6.70" fill="url(#pg)" opacity="0.61"/><ellipse cx="420.5" cy="240.5" rx="5.94" ry="5.94" fill="url(#pg)" opacity="0.46"/><ellipse cx="422.4" cy="102.8" rx="4.97" ry="7.78" transform="rotate(25 422.4 102.8)" fill="url(#pg)" opacity="0.50"/><ellipse cx="431.4" cy="134.7" rx="7.34" ry="7.34" fill="url(#pg)" opacity="0.43"/><ellipse cx="448.8" cy="157.4" rx="4.10" ry="4.10" fill="url(#pg)" opacity="0.44"/><ellipse cx="432.5" cy="184" rx="6.80" ry="6.80" fill="url(#pg)" opacity="0.46"/><ellipse cx="473.3" cy="74.5" rx="2.59" ry="2.59" fill="url(#pg)" opacity="0.26"/><ellipse cx="498.9" cy="78.2" rx="5.62" ry="5.62" fill="url(#pg)" opacity="0.34"/><ellipse cx="514.9" cy="83.7" rx="4.54" ry="4.54" fill="url(#pg)" opacity="0.33"/><ellipse cx="503" cy="91" rx="2.92" ry="2.92" fill="url(#pg)" opacity="0.51"/><ellipse cx="519.5" cy="93.7" rx="6.48" ry="7.02" fill="url(#pg)" opacity="0.39"/><ellipse cx="509.9" cy="116.3" rx="4.86" ry="4.86" fill="url(#pg)" opacity="0.40"/><ellipse cx="523.1" cy="117" rx="5.62" ry="5.62" fill="url(#pg)" opacity="0.44"/><ellipse cx="528.4" cy="129.2" rx="6.16" ry="6.16" fill="url(#pg)" opacity="0.46"/><ellipse cx="532.3" cy="144.6" rx="4.43" ry="4.43" fill="url(#pg)" opacity="0.29"/><ellipse cx="521.3" cy="156.5" rx="6.05" ry="6.05" fill="url(#pg)" opacity="0.54"/><ellipse cx="525.9" cy="164.7" rx="4.54" ry="4.54" fill="url(#pg)" opacity="0.49"/><ellipse cx="508.1" cy="173" rx="4.10" ry="4.10" fill="url(#pg)" opacity="0.29"/><ellipse cx="516.7" cy="171.7" rx="5.08" ry="5.08" fill="url(#pg)" opacity="0.41"/><ellipse cx="520.2" cy="183.8" rx="7.24" ry="7.24" fill="url(#pg)" opacity="0.43"/><ellipse cx="442.9" cy="194.1" rx="3.24" ry="3.24" fill="url(#pg)" opacity="0.28"/><ellipse cx="496.2" cy="196" rx="5.72" ry="5.72" fill="url(#pg)" opacity="0.30"/><ellipse cx="482.4" cy="200.5" rx="6.91" ry="6.91" fill="url(#pg)" opacity="0.95"/><ellipse cx="491.7" cy="210.3" rx="5.72" ry="5.72" fill="url(#pg)" opacity="0.40"/><ellipse cx="472.2" cy="223.9" rx="8.86" ry="8.42" transform="rotate(-30 472.2 223.9)" fill="url(#pg)" opacity="0.64"/><ellipse cx="447.8" cy="233.7" rx="8.96" ry="8.96" fill="url(#pg)" opacity="0.63"/><ellipse cx="395.2" cy="172.4" rx="12.6" ry="12.1" transform="rotate(-30 395.2 172.4)" fill="url(#pg)" opacity="0.7"/></g><g filter="url(#tblur2)"><ellipse cx="391" cy="177.5" rx="7.5" ry="5.8" fill="#000" opacity="0.75"/><ellipse cx="373.5" cy="192.5" rx="4.5" ry="4.2" fill="#000" opacity="0.8"/></g><g filter="url(#tblur)"><ellipse cx="378" cy="192" rx="10.8" ry="6.6" transform="rotate(-8 378 192)" fill="url(#pg)" opacity="0.45"/></g><text x="337.3" y="82.2" class="tb" style="font-size:9px;fill:#f2f2f2;stroke:#f2f2f2">(D)</text><g style="paint-order:stroke" stroke="#cfcfcf" stroke-width="1.4" stroke-linejoin="round"><text x="338" y="236.3" textLength="15.2" lengthAdjust="spacingAndGlyphs" style="font-family:'Liberation Sans',sans-serif;font-size:15px;fill:#262626">50</text><text x="363.3" y="236" textLength="16" lengthAdjust="spacingAndGlyphs" style="font-family:'Liberation Sans',sans-serif;font-size:13.5px;fill:#262626">nm</text><rect x="337.6" y="238.2" width="66.4" height="1.6" fill="#262626"/></g></g>
</svg></div>
</body></html>
